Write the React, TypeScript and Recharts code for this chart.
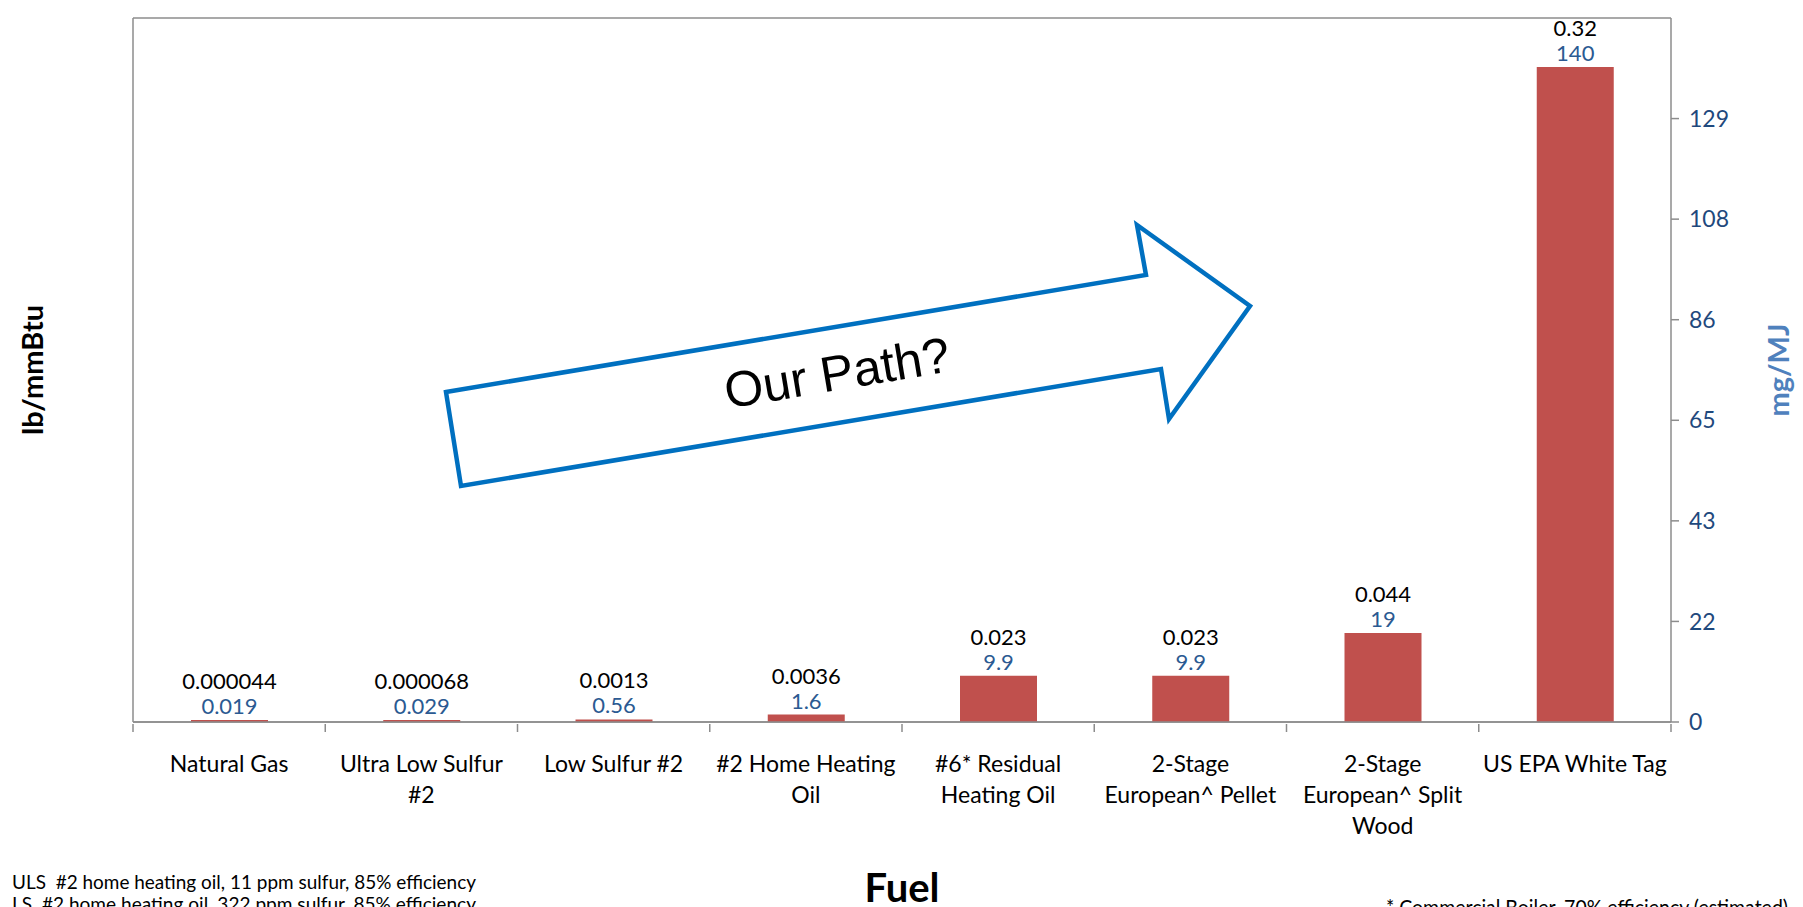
import React from 'react';
import { BarChart, Bar, XAxis, YAxis, CartesianGrid, LabelList, Label } from 'recharts';

// Particulate emissions by fuel, lb/mmBtu and mg/MJ
const fuels = [
  'Natural Gas',
  'Ultra Low Sulfur #2',
  'Low Sulfur #2',
  '#2 Home Heating Oil',
  '#6* Residual Heating Oil',
  '2-Stage European^ Pellet',
  '2-Stage European^ Split Wood',
  'US EPA White Tag',
];
const fuelLabelLines = [
  ['Natural Gas'],
  ['Ultra Low Sulfur', '#2'],
  ['Low Sulfur #2'],
  ['#2 Home Heating', 'Oil'],
  ['#6* Residual', 'Heating Oil'],
  ['2-Stage', 'European^ Pellet'],
  ['2-Stage', 'European^ Split', 'Wood'],
  ['US EPA White Tag'],
];
const lbPerMmBtu = [0.000044, 0.000068, 0.0013, 0.0036, 0.023, 0.023, 0.044, 0.32];
const mgPerMJ = [0.019, 0.029, 0.56, 1.6, 9.9, 9.9, 19, 140];

const leftTicks = [0, 0.05, 0.1, 0.15, 0.2, 0.25, 0.3, 0.35];
const rightTickLabels = ['0', '22', '43', '65', '86', '108', '129'];

const footnotes = [
  'ULS  #2 home heating oil, 11 ppm sulfur, 85% efficiency',
  'LS  #2 home heating oil, 322 ppm sulfur, 85% efficiency',
];
const boilerNote = '* Commercial Boiler, 70% efficiency (estimated)';

// 1 lb/mmBtu is roughly 430 mg/MJ
const MG_PER_LB = 430;

const W = 1803;
const H = 907;
const LEFT_W = 133;
const RIGHT_W = 132;
const TOP = 18;
const X_AXIS_H = 185;
const PLOT_W = W - LEFT_W - RIGHT_W;
const BAND = PLOT_W / fuels.length;

const FONT = 'Lato, "Open Sans", sans-serif';
const GRID = '#8c8c8c';
const BAR = '#C0504D';
const DARK_BLUE = '#1F497D';
const LABEL_BLUE = '#2B5A92';
const TITLE_BLUE = '#4F81BD';

const data = fuels.map((fuel, i) => ({ fuel, lb: lbPerMmBtu[i], mg: mgPerMJ[i] }));
const rightTicks = leftTicks.slice(0, rightTickLabels.length).map((v) => v * MG_PER_LB);

function FuelTick(props: any) {
  const { x, y, index } = props;
  const lines = fuelLabelLines[index] || [];
  const last = index === fuels.length - 1;
  return (
    <g>
      <line x1={x - BAND / 2} x2={x - BAND / 2} y1={y} y2={y + 8} stroke={GRID} strokeWidth={1.5} />
      {last && <line x1={x + BAND / 2} x2={x + BAND / 2} y1={y} y2={y + 8} stroke={GRID} strokeWidth={1.5} />}
      {lines.map((line: string, i: number) => (
        <text
          key={i}
          x={x}
          y={y + 39 + i * 31}
          textAnchor="middle"
          dominantBaseline="central"
          fontFamily={FONT}
          fontSize={23}
          fill="#000"
        >
          {line}
        </text>
      ))}
    </g>
  );
}

function valueLabel(color: string, dy: number) {
  return (props: any) => {
    const vb = props.viewBox || props;
    const x = vb.x ?? props.x;
    const y = vb.y ?? props.y;
    const width = vb.width ?? props.width;
    return (
      <text x={x + width / 2} y={y - dy} textAnchor="middle" fontFamily={FONT} fontSize={22} fill={color}>
        {String(props.value)}
      </text>
    );
  };
}

const leftTitle = (props: any) => {
  const vb = props.viewBox;
  const cx = vb.x + 31;
  const cy = vb.y + vb.height / 2;
  return (
    <text
      x={cx}
      y={cy}
      transform={`rotate(-90 ${cx} ${cy})`}
      textAnchor="middle"
      dominantBaseline="central"
      fontFamily={FONT}
      fontWeight="bold"
      fontSize={29}
      fill="#000"
    >
      lb/mmBtu
    </text>
  );
};

const rightTitle = (props: any) => {
  const vb = props.viewBox;
  const cx = vb.x + 106;
  const cy = vb.y + vb.height / 2;
  return (
    <text
      x={cx}
      y={cy}
      transform={`rotate(-90 ${cx} ${cy})`}
      textAnchor="middle"
      dominantBaseline="central"
      fontFamily={FONT}
      fontWeight="bold"
      fontSize={29}
      fill={TITLE_BLUE}
    >
      mg/MJ
    </text>
  );
};

const xTitle = (props: any) => {
  const vb = props.viewBox;
  return (
    <text
      x={vb.x + vb.width / 2}
      y={vb.y + 165}
      textAnchor="middle"
      dominantBaseline="central"
      fontFamily={FONT}
      fontWeight="bold"
      fontSize={40}
      fill="#000"
    >
      Fuel
    </text>
  );
};

// block arrow annotation drawn over the plot
const arrowPoints = '446,392 1146,275 1137,225 1250,306 1169,419 1161,369 461,486';

export default function App() {
  return (
    <div style={{ position: 'absolute', left: 0, top: 0, width: W, height: H, background: '#fff' }}>
      <BarChart width={W} height={H} data={data} margin={{ top: TOP, right: 0, bottom: 0, left: 0 }}>
        <CartesianGrid vertical={false} stroke={GRID} strokeWidth={1.5} xAxisId="cat" yAxisId="left" />
        <XAxis
          xAxisId="cat"
          dataKey="fuel"
          height={X_AXIS_H}
          interval={0}
          tickLine={false}
          tickSize={0}
          tick={<FuelTick />}
          axisLine={{ stroke: GRID, strokeWidth: 1.5 }}
        >
          <Label content={xTitle} />
        </XAxis>
        <YAxis
          yAxisId="left"
          type="number"
          domain={[0, 0.35]}
          ticks={leftTicks}
          interval={0}
          width={LEFT_W}
          tickSize={8}
          tickMargin={9}
          tickFormatter={(v: number) => v.toFixed(2)}
          tick={{ fill: '#000', fontFamily: FONT, fontSize: 23 }}
          axisLine={{ stroke: GRID, strokeWidth: 1.5 }}
          tickLine={{ stroke: GRID, strokeWidth: 1.5 }}
        >
          <Label content={leftTitle} />
        </YAxis>
        <YAxis
          yAxisId="right"
          orientation="right"
          type="number"
          domain={[0, 0.35 * MG_PER_LB]}
          ticks={rightTicks}
          interval={0}
          width={RIGHT_W}
          tickSize={8}
          tickMargin={10}
          tickFormatter={(_v: number, i: number) => rightTickLabels[i]}
          tick={{ fill: DARK_BLUE, fontFamily: FONT, fontSize: 23 }}
          axisLine={{ stroke: GRID, strokeWidth: 1.5 }}
          tickLine={{ stroke: GRID, strokeWidth: 1.5 }}
        >
          <Label content={rightTitle} />
        </YAxis>
        <Bar
          xAxisId="cat"
          yAxisId="right"
          dataKey="mg"
          fill={BAR}
          barSize={77}
          minPointSize={2}
          isAnimationActive={false}
        >
          <LabelList dataKey="lb" content={valueLabel('#000', 31)} />
          <LabelList dataKey="mg" content={valueLabel(LABEL_BLUE, 6)} />
        </Bar>
      </BarChart>
      <svg
        width={W}
        height={H}
        style={{ position: 'absolute', left: 0, top: 0, pointerEvents: 'none' }}
      >
        <polygon points={arrowPoints} fill="#fff" stroke="#0070C0" strokeWidth={4.5} strokeLinejoin="miter" />
        <text
          x={837}
          y={373}
          transform="rotate(-9.5 837 373)"
          textAnchor="middle"
          dominantBaseline="central"
          fontFamily='"Liberation Sans", Arial, sans-serif'
          fontSize={50}
          fill="#000"
        >
          Our Path?
        </text>
        {footnotes.map((note, i) => (
          <text
            key={i}
            x={12}
            y={889 + i * 22}
            fontFamily={FONT}
            fontSize={20}
            textLength={464}
            lengthAdjust="spacingAndGlyphs"
            style={{ whiteSpace: 'pre' }}
            fill="#000"
          >
            {note}
          </text>
        ))}
        <text
          x={1386}
          y={915}
          fontFamily={FONT}
          fontSize={21}
          textLength={402}
          lengthAdjust="spacingAndGlyphs"
          fill="#000"
        >
          {boilerNote}
        </text>
      </svg>
    </div>
  );
}
